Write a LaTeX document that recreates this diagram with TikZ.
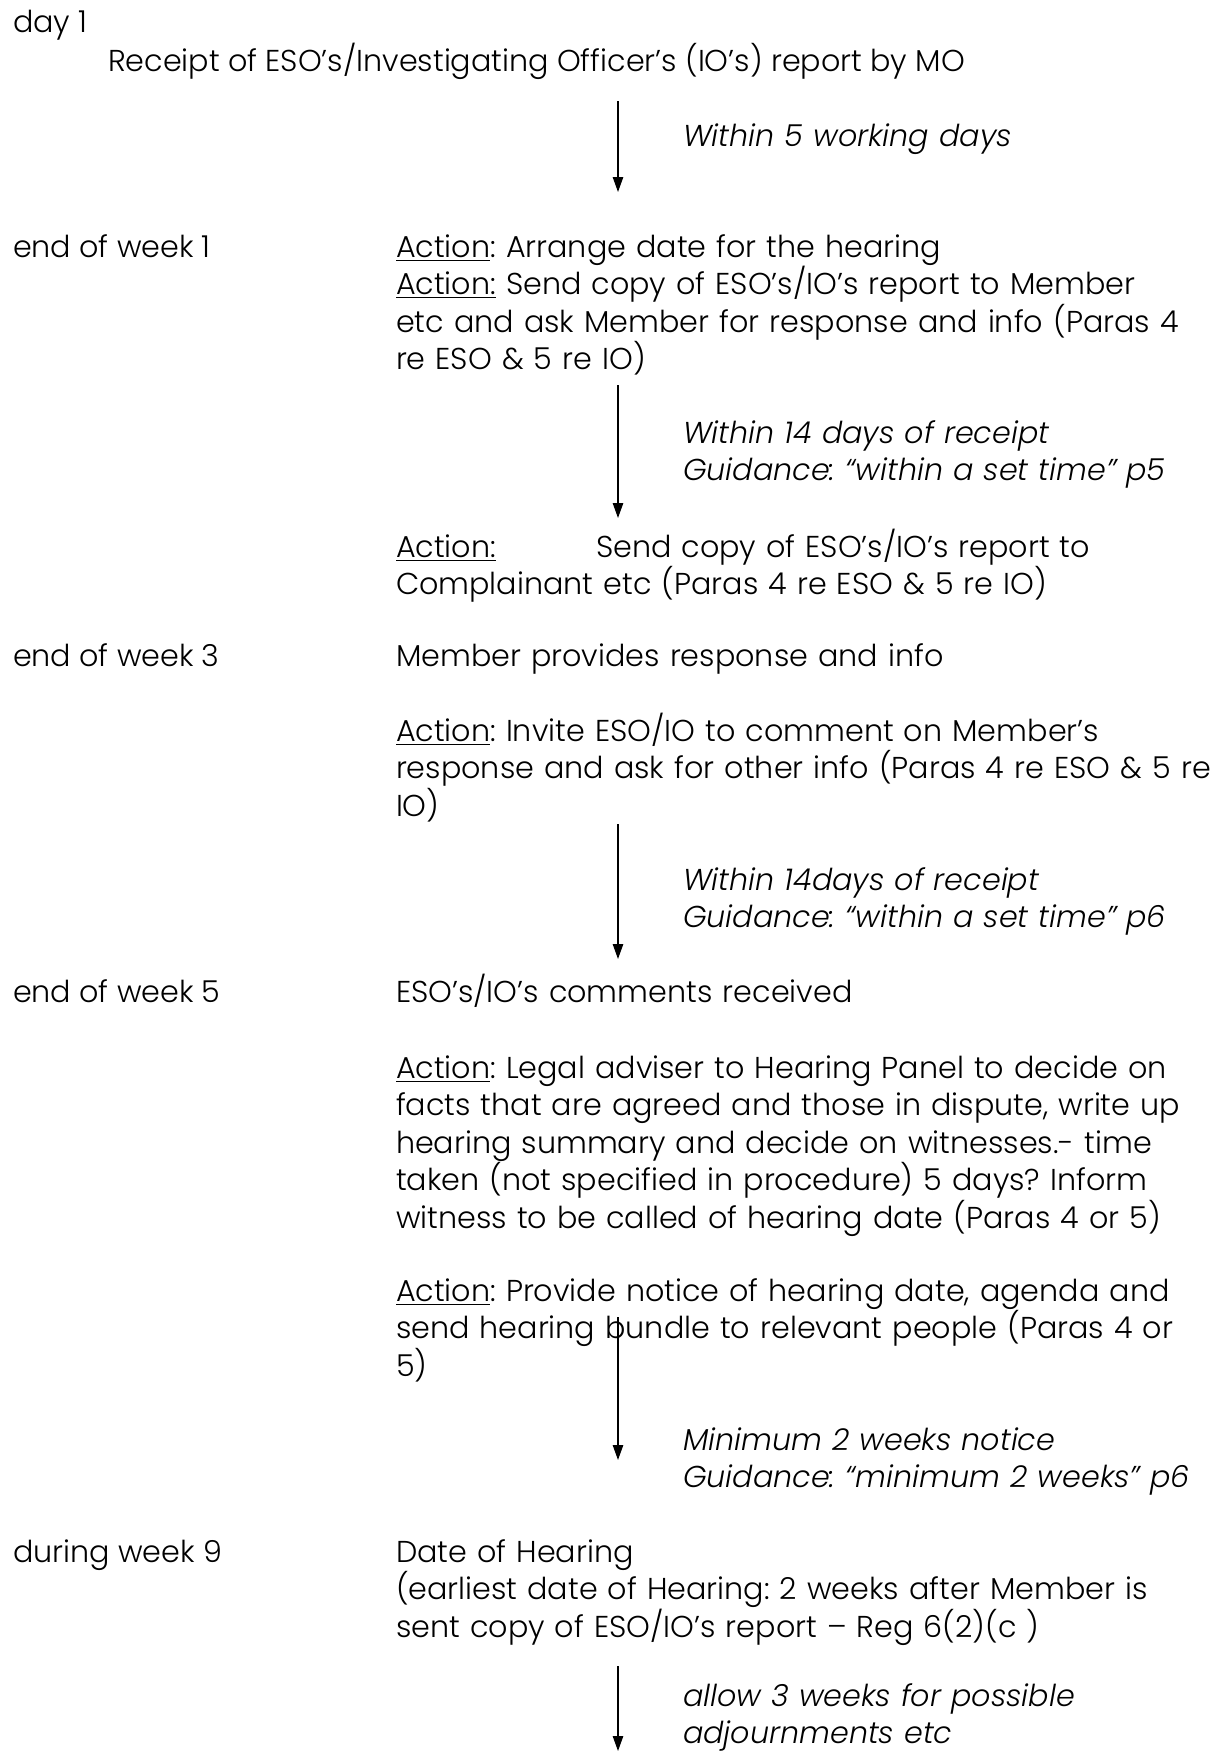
\documentclass[tikz,border=0pt]{standalone}
\usepackage{fontspec}
\setmainfont{Poppins Light}[ItalicFont={Poppins Light Italic}]
\usetikzlibrary{arrows.meta}

\newcommand{\actn}{\underline{Action}:}
\newcommand{\actc}{\underline{Action:}}

\begin{document}
\frenchspacing
\begin{tikzpicture}[x=0.5pt,y=-0.5pt,
    every node/.style={inner sep=0pt,outer sep=0pt,font=\fontsize{15.1}{18.8}\selectfont},
    week/.style={anchor=base west},
    txt/.style={anchor=base west,align=left,text width=430pt},
    note/.style={anchor=base west,align=left,text width=280pt,font=\fontsize{15.1}{18.8}\selectfont\itshape},
    flow/.style={-{Triangle[length=7.5pt,width=5.2pt]},line width=0.7pt}]
    \useasboundingbox (0,0) rectangle (1221,1753);

    \draw
        node[week] (d1) at (13,32) {day 1}
        node[week] (rcpt) at (108,71) {Receipt of ESO’s/Investigating Officer’s (IO’s) report by MO}
        node[note] (n1) at (683,146) {Within 5 working days}

        node[week] (w1) at (13,257) {end of week 1}
        node[txt] (arr) at (396,257) {\actn{} Arrange date for the hearing\\
            \actc{} Send copy of ESO’s/IO’s report to Member\\
            etc and ask Member for response and info (Paras 4\\
            re ESO \& 5 re IO)}
        node[note] (n2) at (683,443) {Within 14 days of receipt\\Guidance: “within a set time” p5}
        node[txt] (cmpl) at (396,557) {\makebox[100pt][l]{\actc}Send copy of ESO’s/IO’s report to\\
            Complainant etc (Paras 4 re ESO \& 5 re IO)}

        node[week] (w3) at (13,666) {end of week 3}
        node[txt] (resp) at (396,666) {Member provides response and info}
        node[txt] (inv) at (396,741) {\actn{} Invite ESO/IO to comment on Member’s\\
            response and ask for other info (Paras 4 re ESO \& 5 re\\
            IO)}
        node[note] (n3) at (683,890) {Within 14days of receipt\\Guidance: “within a set time” p6}

        node[week] (w5) at (13,1002) {end of week 5}
        node[txt] (cmts) at (396,1002) {ESO’s/IO’s comments received}
        node[txt] (legal) at (396,1078) {\actn{} Legal adviser to Hearing Panel to decide on\\
            facts that are agreed and those in dispute, write up\\
            hearing summary and decide on witnesses.- time\\
            taken (not specified in procedure) 5 days? Inform\\
            witness to be called of hearing date (Paras 4 or 5)}
        node[txt] (notice) at (396,1301) {\actn{} Provide notice of hearing date, agenda and\\
            send hearing bundle to relevant people (Paras 4 or\\
            5)}
        node[note] (n4) at (683,1450) {Minimum 2 weeks notice\\Guidance: “minimum 2 weeks” p6}

        node[week] (w9) at (13,1562) {during week 9}
        node[txt] (hear) at (396,1562) {Date of Hearing\\
            (earliest date of Hearing: 2 weeks after Member is\\
            sent copy of ESO/IO’s report – Reg 6(2)(c )}
        node[note] (n5) at (683,1706) {allow 3 weeks for possible\\adjournments etc}
    ;

    \coordinate (s1) at (618,101);  \coordinate (e1) at (618,192);
    \coordinate (s2) at (618,385);  \coordinate (e2) at (618,518);
    \coordinate (s3) at (618,824);  \coordinate (e3) at (618,959);
    \coordinate (s4) at (618,1317); \coordinate (e4) at (618,1460);
    \coordinate (s5) at (618,1666); \coordinate (e5) at (618,1751);

    \draw[flow] (s1) -- (e1);
    \draw[flow] (s2) -- (e2);
    \draw[flow] (s3) -- (e3);
    \draw[flow] (s4) -- (e4);
    \draw[flow] (s5) -- (e5);
\end{tikzpicture}
\end{document}
